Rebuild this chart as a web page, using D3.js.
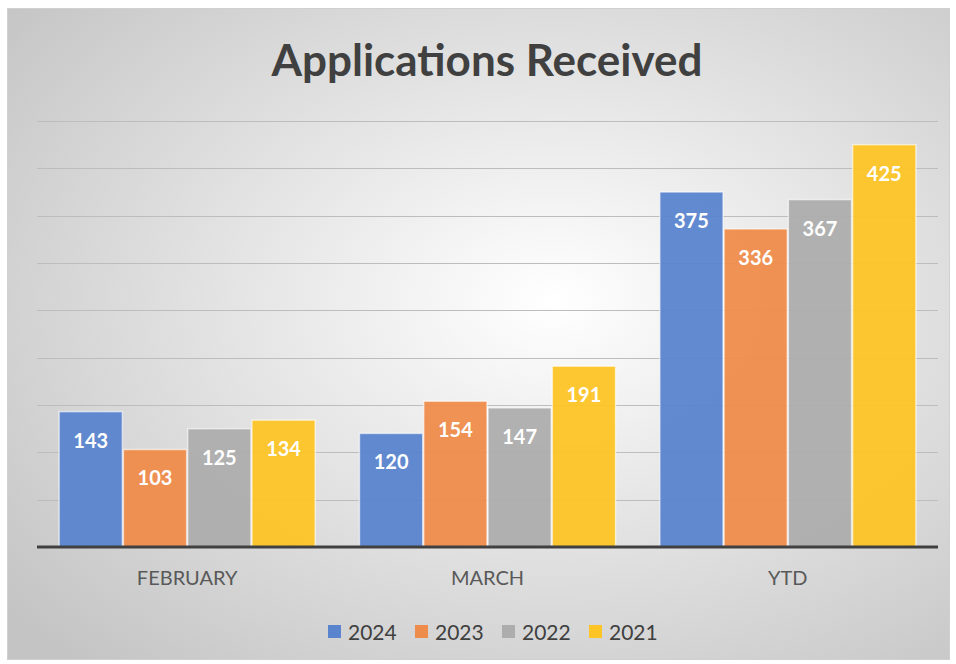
<!DOCTYPE html>
<html><head><meta charset="utf-8">
<script src="https://cdn.jsdelivr.net/npm/d3@7"></script>
<style>html,body{margin:0;padding:0;background:#fff;}svg{display:block;}</style>
</head><body>
<svg id="chart" width="956" height="664"></svg>
<script>
const categories = ["FEBRUARY", "MARCH", "YTD"];
const years = ["2024", "2023", "2022", "2021"];
const values2024 = [143, 120, 375];
const values2023 = [103, 154, 336];
const values2022 = [125, 147, 367];
const values2021 = [134, 191, 425];
const yTicks = [0, 50, 100, 150, 200, 250, 300, 350, 400, 450];
const colors = ["#5a84cd", "#ee8c4b", "#adadad", "#fcc425"];
const title = "Applications Received";

const seriesValues = [values2024, values2023, values2022, values2021];
const data = categories.map((c, i) => ({cat: c, vals: years.map((yr, j) => ({year: yr, v: seriesValues[j][i], color: colors[j]}))}));

const svg = d3.select("#chart");
const defs = svg.append("defs");
const rg = defs.append("radialGradient").attr("id", "bg").attr("cx", "58%").attr("cy", "45%").attr("r", "75%");
rg.append("stop").attr("offset", "0%").attr("stop-color", "#ffffff");
rg.append("stop").attr("offset", "100%").attr("stop-color", "#c4c4c4");

svg.append("rect").attr("x", 7.5).attr("y", 8.5).attr("width", 942).attr("height", 651)
  .attr("fill", "url(#bg)").attr("stroke", "#d0d0d0").attr("stroke-width", 1);

const plotLeft = 37, plotRight = 938, plotBase = 547, plotTop = 121;
const x0 = d3.scaleBand().domain(categories).range([plotLeft, plotRight]).paddingInner(0.144).paddingOuter(0.072);
const x1 = d3.scaleBand().domain(years).range([0, x0.bandwidth()]).padding(0);
const y = d3.scaleLinear().domain([0, 450]).range([plotBase, plotTop]);

// gridlines
svg.append("g").selectAll("line").data(yTicks.filter(t => t > 0)).join("line")
  .attr("x1", plotLeft).attr("x2", plotRight)
  .attr("y1", d => Math.round(y(d)) + 0.5).attr("y2", d => Math.round(y(d)) + 0.5)
  .attr("stroke", "#bdbdbd").attr("stroke-width", 1);

// title
svg.append("text").attr("x", 487).attr("y", 76).attr("text-anchor", "middle")
  .attr("font-family", "Lato, 'Open Sans', sans-serif").attr("font-weight", "bold")
  .attr("font-size", 44).attr("fill", "#404040").text(title);

const groups = svg.append("g").selectAll("g").data(data).join("g")
  .attr("transform", d => `translate(${x0(d.cat)},0)`);

groups.selectAll("rect").data(d => d.vals).join("rect")
  .attr("x", d => x1(d.year) + 0.5)
  .attr("y", d => y(d.v))
  .attr("width", x1.bandwidth() - 1)
  .attr("height", d => plotBase - y(d.v))
  .attr("fill", d => d.color).attr("fill-opacity", 0.95)
  .attr("stroke", "#ffffff").attr("stroke-opacity", 0.6).attr("stroke-width", 1.5);

groups.selectAll("text").data(d => d.vals).join("text")
  .attr("x", d => x1(d.year) + x1.bandwidth() / 2)
  .attr("y", d => y(d.v) + 36)
  .attr("text-anchor", "middle")
  .attr("font-family", "Lato, 'Open Sans', sans-serif").attr("font-weight", "bold")
  .attr("font-size", 20).attr("fill", "#ffffff").text(d => d.v);

// baseline axis
const xAxis = d3.axisBottom(x0).tickSize(0).tickPadding(24);
const ax = svg.append("g").attr("transform", `translate(0,${plotBase})`).call(xAxis);
ax.select(".domain").remove();
ax.append("line").attr("x1", plotLeft).attr("x2", plotRight).attr("y1", 0).attr("y2", 0)
  .attr("stroke", "#404040").attr("stroke-width", 3);
ax.selectAll(".tick text").attr("font-family", "Lato, 'Open Sans', sans-serif")
  .attr("font-size", 20).attr("fill", "#595959");

// legend
const legendX = [328, 415, 502, 589];
const lg = svg.append("g").selectAll("g").data(years).join("g")
  .attr("transform", (d, i) => `translate(${legendX[i]},625)`);
lg.append("rect").attr("x", 0).attr("y", 0).attr("width", 13).attr("height", 13)
  .attr("fill", (d, i) => colors[i]);
lg.append("text").attr("x", 20).attr("y", 14.5)
  .attr("font-family", "Lato, 'Open Sans', sans-serif").attr("font-size", 21)
  .attr("fill", "#404040").text(d => d);
</script>
</body></html>
